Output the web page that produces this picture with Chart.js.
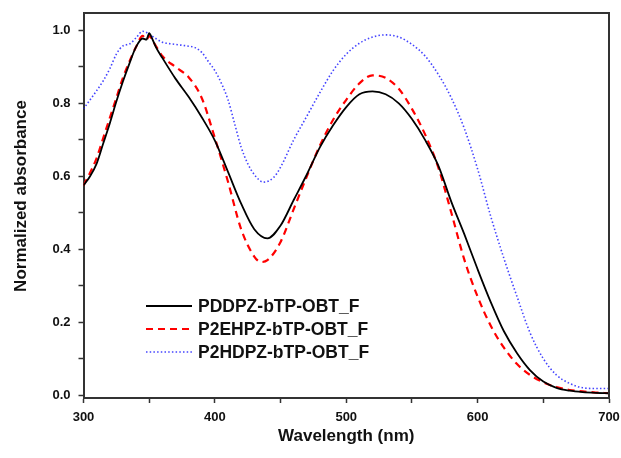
<!DOCTYPE html>
<html>
<head>
<meta charset="utf-8">
<script src="https://cdn.jsdelivr.net/npm/chart.js@4"></script>
<style>
  html, body { margin: 0; padding: 0; background: #fff; }
  #wrap { width: 621px; height: 458px; position: relative; }
</style>
</head>
<body>
<div id="wrap"><canvas id="c" width="621" height="458"></canvas></div>
<script>
// ---- Data ----
const seriesNames = ["PDDPZ-bTP-OBT_F", "P2EHPZ-bTP-OBT_F", "P2HDPZ-bTP-OBT_F"];

const wavelengthsPDDPZ = [300,305,310,315,320,325,330,335,340,345,348,350,352,355,360,370,380,390,400,410,420,430,440,450,460,470,480,490,500,510,520,530,540,550,560,570,580,590,600,610,620,630,640,650,660,670,680,690,700];
const absorbancePDDPZ = [0.575,0.60,0.635,0.69,0.745,0.805,0.86,0.91,0.955,0.978,0.975,0.993,0.98,0.955,0.925,0.868,0.818,0.762,0.698,0.612,0.525,0.455,0.43,0.465,0.535,0.605,0.68,0.74,0.79,0.825,0.833,0.825,0.80,0.757,0.70,0.63,0.53,0.44,0.345,0.255,0.175,0.115,0.068,0.037,0.02,0.012,0.008,0.006,0.005];

const wavelengthsP2EHPZ = [300,305,310,315,320,325,330,335,340,345,348,350,353,360,370,380,390,400,410,420,430,435,440,450,460,470,480,490,500,510,520,530,540,550,560,570,580,590,600,610,620,630,640,650,660,670,680,690,700];
const absorbanceP2EHPZ = [0.575,0.61,0.65,0.705,0.76,0.815,0.87,0.915,0.955,0.985,0.975,0.985,0.97,0.93,0.90,0.872,0.815,0.705,0.585,0.455,0.38,0.365,0.37,0.42,0.51,0.60,0.685,0.755,0.81,0.855,0.877,0.87,0.84,0.785,0.715,0.625,0.50,0.37,0.27,0.19,0.13,0.085,0.055,0.035,0.022,0.014,0.01,0.007,0.005];

const wavelengthsP2HDPZ = [300,310,315,320,325,330,335,340,345,350,355,360,370,380,385,390,395,400,405,410,415,420,425,430,437,445,450,460,470,480,490,500,510,520,530,540,550,560,570,580,590,600,610,620,630,640,650,660,670,680,690,700];
const absorbanceP2HDPZ = [0.785,0.835,0.862,0.895,0.935,0.958,0.963,0.98,0.998,0.99,0.978,0.968,0.962,0.957,0.953,0.94,0.915,0.89,0.855,0.81,0.745,0.68,0.635,0.605,0.584,0.598,0.625,0.70,0.765,0.83,0.89,0.935,0.965,0.982,0.988,0.982,0.962,0.93,0.88,0.815,0.73,0.62,0.49,0.375,0.27,0.17,0.10,0.055,0.032,0.02,0.018,0.018];

const xTickValues = [300,350,400,450,500,550,600,650,700];
const xTickLabels = ["300","","400","","500","","600","","700"];
const yTickValues = [0,0.1,0.2,0.3,0.4,0.5,0.6,0.7,0.8,0.9,1.0];
const yTickLabels = ["0.0","","0.2","","0.4","","0.6","","0.8","","1.0"];
const xTitle = "Wavelength (nm)";
const yTitle = "Normalized absorbance";

function toPoints(xs, ys) { return xs.map((x, i) => ({ x: x, y: ys[i] })); }

const FONT = "'Liberation Sans', Arial, sans-serif";
const AXIS_COLOR = '#333333';

const framePlugin = {
  id: 'frame',
  afterDraw(chart) {
    const { ctx, chartArea: a } = chart;
    ctx.save();
    ctx.strokeStyle = AXIS_COLOR;
    ctx.lineWidth = 2;
    ctx.beginPath();
    ctx.moveTo(a.left, a.top);
    ctx.lineTo(a.right, a.top);
    ctx.lineTo(a.right, a.bottom);
    ctx.stroke();
    // y-axis title
    ctx.fillStyle = '#111';
    ctx.font = "bold 17px " + FONT;
    ctx.textAlign = 'center';
    ctx.textBaseline = 'middle';
    ctx.translate(21, 196);
    ctx.rotate(-Math.PI / 2);
    ctx.fillText(yTitle, 0, 0);
    ctx.restore();
  }
};

const legendPlugin = {
  id: 'inlineLegend',
  afterDatasetsDraw(chart) {
    const { ctx } = chart;
    const x0 = 146, x1 = 192, tx = 198;
    const rows = [306, 329, 352];
    ctx.save();
    chart.data.datasets.forEach((ds, i) => {
      const y = rows[i];
      ctx.strokeStyle = ds.borderColor;
      ctx.lineWidth = ds.borderWidth;
      ctx.setLineDash(ds.borderDash || []);
      ctx.beginPath();
      ctx.moveTo(x0, y);
      ctx.lineTo(x1, y);
      ctx.stroke();
      ctx.setLineDash([]);
      ctx.fillStyle = '#111';
      ctx.font = "bold 17.5px " + FONT;
      ctx.textBaseline = 'middle';
      ctx.textAlign = 'left';
      ctx.fillText(ds.label, tx, y + 1);
    });
    ctx.restore();
  }
};

new Chart(document.getElementById('c'), {
  type: 'line',
  data: {
    datasets: [
      {
        label: seriesNames[0],
        data: toPoints(wavelengthsPDDPZ, absorbancePDDPZ),
        borderColor: '#000000',
        borderWidth: 1.8,
        borderDash: [],
        pointRadius: 0,
        cubicInterpolationMode: 'monotone',
        fill: false
      },
      {
        label: seriesNames[1],
        data: toPoints(wavelengthsP2EHPZ, absorbanceP2EHPZ),
        borderColor: '#ff0000',
        borderWidth: 2.2,
        borderDash: [7, 5],
        pointRadius: 0,
        cubicInterpolationMode: 'monotone',
        fill: false
      },
      {
        label: seriesNames[2],
        data: toPoints(wavelengthsP2HDPZ, absorbanceP2HDPZ),
        borderColor: 'rgba(20,20,255,0.8)',
        borderWidth: 1.6,
        borderDash: [1.5, 2.2],
        pointRadius: 0,
        cubicInterpolationMode: 'monotone',
        fill: false
      }
    ]
  },
  options: {
    responsive: false,
    animation: false,
    devicePixelRatio: 1,
    layout: { padding: { left: 0, right: 12, top: 13, bottom: 0 } },
    plugins: { legend: { display: false }, tooltip: { enabled: false } },
    scales: {
      x: {
        type: 'linear',
        min: 300, max: 700,
        afterFit(scale) { scale.height = 60; scale.paddingLeft = 0; scale.paddingRight = 0; },
        afterBuildTicks(scale) { scale.ticks = xTickValues.map(v => ({ value: v })); },
        ticks: {
          autoSkip: false,
          maxRotation: 0,
          padding: 7,
          color: '#111',
          font: { family: FONT, size: 13, weight: 'bold' },
          callback: (v) => { const i = xTickValues.indexOf(v); return i >= 0 ? xTickLabels[i] : ''; }
        },
        grid: { drawOnChartArea: false, drawTicks: true, tickLength: 5, tickWidth: 1.5, tickColor: AXIS_COLOR, color: AXIS_COLOR },
        border: { display: true, color: AXIS_COLOR, width: 2 },
        title: { display: true, text: xTitle, color: '#111', font: { family: FONT, size: 17, weight: 'bold' }, padding: { top: 0, bottom: 11 } }
      },
      y: {
        type: 'linear',
        min: -0.008, max: 1.048,
        afterFit(scale) { scale.width = 83.5; scale.paddingTop = 0; scale.paddingBottom = 0; },
        afterBuildTicks(scale) { scale.ticks = yTickValues.map(v => ({ value: v })); },
        ticks: {
          autoSkip: false,
          padding: 8,
          color: '#111',
          font: { family: FONT, size: 13, weight: 'bold' },
          callback: (v) => { const i = yTickValues.findIndex(t => Math.abs(t - v) < 1e-9); return i >= 0 ? yTickLabels[i] : ''; }
        },
        grid: { drawOnChartArea: false, drawTicks: true, tickLength: 5, tickWidth: 1.5, tickColor: AXIS_COLOR, color: AXIS_COLOR },
        border: { display: true, color: AXIS_COLOR, width: 2 },
        title: { display: false }
      }
    }
  },
  plugins: [framePlugin, legendPlugin]
});
</script>
</body>
</html>
